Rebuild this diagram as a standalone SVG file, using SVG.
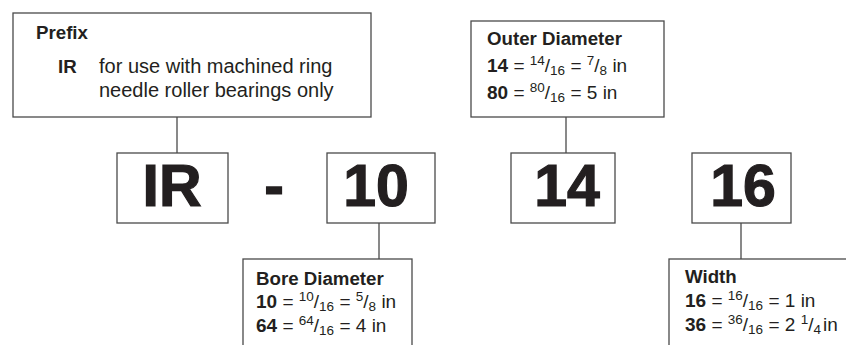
<svg xmlns="http://www.w3.org/2000/svg" width="846" height="345" viewBox="0 0 846 345">
<style>
.box{fill:#fff;stroke:#4a4a4a;stroke-width:1.3}
.con{stroke:#4a4a4a;stroke-width:1.3;fill:none}
.t{font-family:"Liberation Sans",Arial,sans-serif;font-size:19px;fill:#231f20}
.d{font-size:20px}
.h{font-weight:bold;font-size:18.7px}
.b{font-weight:bold}
.s{font-size:13.5px}
.big{font-family:"Liberation Sans",Arial,sans-serif;font-size:59px;font-weight:bold;fill:#231f20;stroke:#231f20;stroke-width:1.2;text-anchor:middle}
</style>
<rect width="846" height="345" fill="#fff"/>
<g id="connectors">
<line class="con" x1="177" y1="117" x2="177" y2="153"/>
<line class="con" x1="566" y1="117" x2="566" y2="153"/>
<line class="con" x1="379" y1="223" x2="379" y2="259"/>
<line class="con" x1="741" y1="223" x2="741" y2="259"/>
</g>
<g id="prefix">
<rect class="box" x="13" y="13" width="358" height="104"/>
<text class="t h" x="36" y="39">Prefix</text>
<text class="t h" x="58" y="73">IR</text>
<text class="t d" x="99" y="73">for use with machined ring</text>
<text class="t d" x="99" y="97">needle roller bearings only</text>
</g>
<g id="outer">
<rect class="box" x="471" y="21" width="193" height="96"/>
<text class="t h" x="487" y="45">Outer Diameter</text>
<text class="t" x="487" y="72"><tspan class="b">14</tspan> = <tspan class="s" dy="-7">14</tspan><tspan dy="7">/</tspan><tspan class="s" dy="3">16</tspan><tspan dy="-3"> = </tspan><tspan class="s" dy="-7">7</tspan><tspan dy="7">/</tspan><tspan class="s" dy="3">8</tspan><tspan dy="-3"> in</tspan></text>
<text class="t" x="487" y="99"><tspan class="b">80</tspan> = <tspan class="s" dy="-7">80</tspan><tspan dy="7">/</tspan><tspan class="s" dy="3">16</tspan><tspan dy="-3"> = 5 in</tspan></text>
</g>
<g id="ir">
<rect class="box" x="117" y="153" width="111" height="70"/>
<text class="big" x="172" y="206">IR</text>
</g>
<g id="dash">
<text class="big" x="274" y="206">-</text>
</g>
<g id="n10">
<rect class="box" x="327" y="153" width="108" height="70"/>
<text class="big" x="376" y="206">10</text>
</g>
<g id="n14">
<rect class="box" x="511" y="153" width="104" height="70"/>
<text class="big" x="567" y="206">14</text>
</g>
<g id="n16">
<rect class="box" x="692" y="153" width="99" height="70"/>
<text class="big" x="743" y="206">16</text>
</g>
<g id="bore">
<rect class="box" x="243" y="259" width="169" height="100"/>
<text class="t h" x="256" y="285">Bore Diameter</text>
<text class="t" x="256" y="308"><tspan class="b">10</tspan> = <tspan class="s" dy="-7">10</tspan><tspan dy="7">/</tspan><tspan class="s" dy="3">16</tspan><tspan dy="-3"> = </tspan><tspan class="s" dy="-7">5</tspan><tspan dy="7">/</tspan><tspan class="s" dy="3">8</tspan><tspan dy="-3"> in</tspan></text>
<text class="t" x="256" y="332"><tspan class="b">64</tspan> = <tspan class="s" dy="-7">64</tspan><tspan dy="7">/</tspan><tspan class="s" dy="3">16</tspan><tspan dy="-3"> = 4 in</tspan></text>
</g>
<g id="width">
<rect class="box" x="669" y="259" width="200" height="100"/>
<text class="t h" x="685" y="283">Width</text>
<text class="t" x="685" y="307"><tspan class="b">16</tspan> = <tspan class="s" dy="-7">16</tspan><tspan dy="7">/</tspan><tspan class="s" dy="3">16</tspan><tspan dy="-3"> = 1 in</tspan></text>
<text class="t" x="685" y="331"><tspan class="b">36</tspan> = <tspan class="s" dy="-7">36</tspan><tspan dy="7">/</tspan><tspan class="s" dy="3">16</tspan><tspan dy="-3"> = 2 </tspan><tspan class="s" dy="-7">1</tspan><tspan dy="7">/</tspan><tspan class="s" dy="3">4</tspan><tspan dy="-3" dx="2">in</tspan></text>
</g>
</svg>
